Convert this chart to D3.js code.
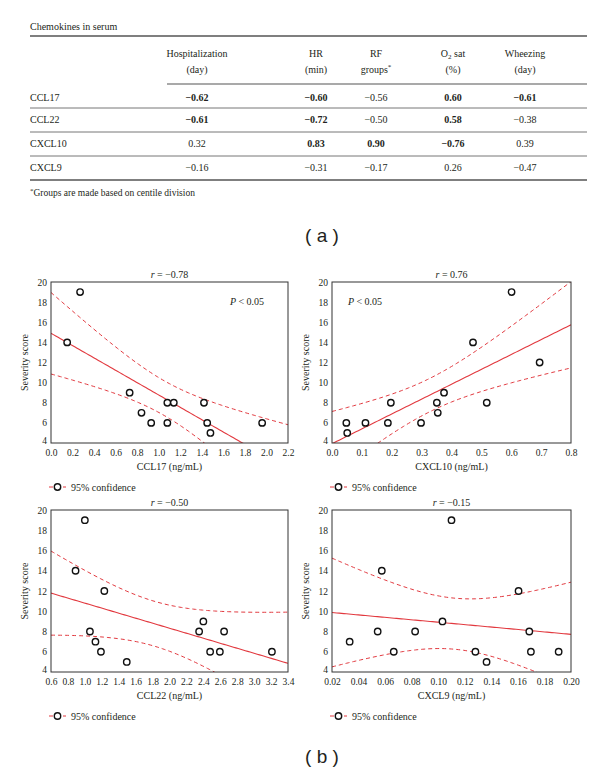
<!DOCTYPE html>
<html><head><meta charset="utf-8">
<script src="https://cdn.jsdelivr.net/npm/d3@7"></script>
<style>
body{margin:0;background:#fff}
svg{display:block}
text{font-family:"Liberation Serif","Tinos","DejaVu Serif","Noto Serif",serif;fill:#231f20}
</style>
</head><body>
<svg id="c" width="600" height="772"></svg>
<script>
// ---------- table data ----------
const tableTitle = "Chemokines in serum";
const tableHeadTop = ["Hospitalization", "HR", "RF", "O2 sat", "Wheezing"];
const tableHeadBottom = ["(day)", "(min)", "groups*", "(%)", "(day)"];
const tableRows = ["CCL17", "CCL22", "CXCL10", "CXCL9"];
const tableValues = [
  [-0.62, -0.60, -0.56, 0.60, -0.61],
  [-0.61, -0.72, -0.50, 0.58, -0.38],
  [0.32, 0.83, 0.90, -0.76, 0.39],
  [-0.16, -0.31, -0.17, 0.26, -0.47]
];
const tableBold = [
  [1, 1, 0, 1, 1],
  [1, 1, 0, 1, 0],
  [0, 1, 1, 1, 0],
  [0, 0, 0, 0, 0]
];
const footnote = "Groups are made based on centile division";

// ---------- scatter data ----------
const ccl17X = [0.27, 0.15, 0.73, 0.84, 0.93, 1.08, 1.14, 1.08, 1.42, 1.45, 1.48, 1.96];
const ccl17Y = [19, 14, 9, 7, 6, 8, 8, 6, 8, 6, 5, 6];
const cxcl10X = [0.048, 0.051, 0.112, 0.187, 0.197, 0.298, 0.351, 0.354, 0.375, 0.472, 0.518, 0.601, 0.695];
const cxcl10Y = [6, 5, 6, 6, 8, 6, 8, 7, 9, 14, 8, 19, 12];
const ccl22X = [1.00, 0.89, 1.23, 1.06, 1.125, 1.19, 1.495, 2.35, 2.40, 2.48, 2.595, 2.645, 3.21];
const ccl22Y = [19, 14, 12, 8, 7, 6, 5, 8, 9, 6, 6, 8, 6];
const cxcl9X = [0.0333, 0.0544, 0.0575, 0.0665, 0.0826, 0.1032, 0.110, 0.128, 0.1364, 0.1605, 0.1686, 0.1698, 0.1907];
const cxcl9Y = [7, 8, 14, 6, 8, 9, 19, 6, 5, 12, 8, 6, 6];

const ccl17Ticks = [0, 0.2, 0.4, 0.6, 0.8, 1.0, 1.2, 1.4, 1.6, 1.8, 2.0, 2.2];
const cxcl10Ticks = [0, 0.1, 0.2, 0.3, 0.4, 0.5, 0.6, 0.7, 0.8];
const ccl22Ticks = [0.6, 0.8, 1.0, 1.2, 1.4, 1.6, 1.8, 2.0, 2.2, 2.4, 2.6, 2.8, 3.0, 3.2, 3.4];
const cxcl9Ticks = [0.02, 0.04, 0.06, 0.08, 0.10, 0.12, 0.14, 0.16, 0.18, 0.20];
const severityTicks = [4, 6, 8, 10, 12, 14, 16, 18, 20];
const rValues = [-0.78, 0.76, -0.50, -0.15];
const xLabels = ["CCL17 (ng/mL)", "CXCL10 (ng/mL)", "CCL22 (ng/mL)", "CXCL9 (ng/mL)"];
const yLabel = "Severity score";
const legendLabel = "95% confidence";
const pLabel = "< 0.05";
const tCrit = {10: 2.228, 11: 2.201};

// ---------- drawing ----------
const SERIF = "'Liberation Serif','Tinos','DejaVu Serif','Noto Serif',serif";
const svg = d3.select("#c");
const RED = "#e2393f";
const minus = v => (v < 0 ? "\u2212" : "") + Math.abs(v).toFixed(2);

// Table
const tX0 = 30, tX1 = 587;
const colX = [197, 316, 376, 453, 525];
const rowY = [97, 119, 143, 167];
const FS = 10;
const txt = (sel) => sel.append("text").style("font-family", SERIF);
txt(svg).attr("x", tX0).attr("y", 29.5).attr("font-size", FS).text(tableTitle);
const hl = (y, x0, x1, c, w) => svg.append("line").attr("x1", x0).attr("x2", x1)
  .attr("y1", y).attr("y2", y).attr("stroke", c).attr("stroke-width", w);
hl(36, tX0, tX1, "#555", 1.3);
hl(84, 167, tX1, "#555", 1.1);
[108, 132, 156].forEach(y => hl(y, tX0, tX1, "#777", 1));
hl(180, tX0, tX1, "#555", 1.3);

tableHeadTop.forEach((h, i) => {
  const t = txt(svg).attr("x", colX[i]).attr("y", 56.5)
    .attr("text-anchor", "middle").attr("font-size", FS);
  if (h.startsWith("O2")) {
    t.append("tspan").text("O");
    t.append("tspan").attr("font-size", 7).attr("dy", 2.5).text("2");
    t.append("tspan").attr("dy", -2.5).text(h.slice(2));
  } else t.text(h);
});
tableHeadBottom.forEach((h, i) => {
  const t = txt(svg).attr("x", colX[i]).attr("y", 72.5)
    .attr("text-anchor", "middle").attr("font-size", FS);
  if (h.endsWith("*")) {
    t.append("tspan").text(h.slice(0, -1));
    t.append("tspan").attr("font-size", 7).attr("dy", -4).text("*");
  } else t.text(h);
});
tableRows.forEach((r, i) => {
  txt(svg).attr("x", tX0).attr("y", rowY[i] + 3.5).attr("font-size", FS).text(r);
  tableValues[i].forEach((v, j) => {
    txt(svg).attr("x", colX[j]).attr("y", rowY[i] + 3.5)
      .attr("text-anchor", "middle").attr("font-size", FS)
      .attr("font-weight", tableBold[i][j] ? "bold" : "normal").text(minus(v));
  });
});
const fn = txt(svg).attr("x", tX0).attr("y", 196).attr("font-size", 9.5);
fn.append("tspan").attr("font-size", 7).attr("dy", -3).text("*");
fn.append("tspan").attr("dy", 3).text(footnote);

// Panel labels
svg.append("text").attr("x", 322).attr("y", 242).attr("text-anchor", "middle")
  .style("font-family", "'Liberation Sans', Arial, sans-serif").attr("font-size", 19).text("( a )");
svg.append("text").attr("x", 322).attr("y", 763).attr("text-anchor", "middle")
  .style("font-family", "'Liberation Sans', Arial, sans-serif").attr("font-size", 19).text("( b )");

// Scatter panels
const panels = [
  {xs: ccl17X, ys: ccl17Y, ticks: ccl17Ticks, dec: 1, box: [51, 282, 288, 443], pX: 247},
  {xs: cxcl10X, ys: cxcl10Y, ticks: cxcl10Ticks, dec: 1, box: [332, 282, 571, 443], pX: 365},
  {xs: ccl22X, ys: ccl22Y, ticks: ccl22Ticks, dec: 1, box: [51, 510, 288, 672], pX: null},
  {xs: cxcl9X, ys: cxcl9Y, ticks: cxcl9Ticks, dec: 2, box: [332, 510, 571, 672], pX: null}
];

panels.forEach((p, k) => {
  const [x0, y0, x1, y1] = p.box;
  const xd = [p.ticks[0], p.ticks[p.ticks.length - 1]];
  const x = d3.scaleLinear().domain(xd).range([x0, x1]);
  const y = d3.scaleLinear().domain([4, 20]).range([y1, y0]);
  const g = svg.append("g");

  // regression + 95% CI of mean
  const n = p.xs.length;
  const mx = d3.mean(p.xs), my = d3.mean(p.ys);
  let sxx = 0, sxy = 0;
  p.xs.forEach((v, i) => { sxx += (v - mx) ** 2; sxy += (v - mx) * (p.ys[i] - my); });
  const b = sxy / sxx, a = my - b * mx;
  let sse = 0;
  p.xs.forEach((v, i) => { sse += (p.ys[i] - (a + b * v)) ** 2; });
  const s = Math.sqrt(sse / (n - 2));
  const t = tCrit[n - 2];
  const grid = d3.range(0, 101).map(i => xd[0] + (xd[1] - xd[0]) * i / 100);
  const half = v => t * s * Math.sqrt(1 / n + (v - mx) ** 2 / sxx);

  const cid = "clip" + k;
  svg.append("clipPath").attr("id", cid).append("rect")
    .attr("x", x0).attr("y", y0).attr("width", x1 - x0).attr("height", y1 - y0);
  const lg = g.append("g").attr("clip-path", `url(#${cid})`);
  const line = d3.line().x(d => x(d[0])).y(d => y(d[1]));
  lg.append("path").attr("d", line(grid.map(v => [v, a + b * v])))
    .attr("fill", "none").attr("stroke", RED).attr("stroke-width", 1.1);
  [1, -1].forEach(sg => {
    lg.append("path").attr("d", line(grid.map(v => [v, a + b * v + sg * half(v)])))
      .attr("fill", "none").attr("stroke", RED).attr("stroke-width", 1)
      .attr("stroke-dasharray", "4,3");
  });

  // frame
  g.append("rect").attr("x", x0).attr("y", y0).attr("width", x1 - x0).attr("height", y1 - y0)
    .attr("fill", "none").attr("stroke", "#333").attr("stroke-width", 1);

  // points
  g.selectAll("circle.pt").data(p.xs.map((v, i) => [v, p.ys[i]])).join("circle")
    .attr("class", "pt").attr("cx", d => x(d[0])).attr("cy", d => y(d[1])).attr("r", 3.2)
    .attr("fill", "#fff").attr("stroke", "#111").attr("stroke-width", 1.4);

  // axes
  const ax = g.append("g").attr("transform", `translate(0,${y1})`)
    .call(d3.axisBottom(x).tickValues(p.ticks).tickSize(0).tickPadding(6)
      .tickFormat(d => d.toFixed(p.dec)));
  const ay = g.append("g").attr("transform", `translate(${x0},0)`)
    .call(d3.axisLeft(y).tickValues(severityTicks).tickSize(0).tickPadding(4)
      .tickFormat(d3.format("d")));
  [ax, ay].forEach(A => {
    A.attr("font-family", null);
    A.select(".domain").remove();
    A.selectAll("text").attr("font-size", 9.5).attr("fill", "#231f20")
      .style("font-family", SERIF);
  });
  ay.selectAll("text").filter(d => d === 4).attr("dy", "0.1em");

  const cx = (x0 + x1) / 2;
  // title
  const tt = txt(g).attr("x", cx).attr("y", y0 - 4).attr("text-anchor", "middle").attr("font-size", 10);
  tt.append("tspan").attr("font-style", "italic").text("r");
  tt.append("tspan").text(" = " + minus(rValues[k]));
  if (p.pX) {
    const pt = txt(g).attr("x", p.pX).attr("y", y0 + 23).attr("text-anchor", "middle").attr("font-size", 10);
    pt.append("tspan").attr("font-style", "italic").text("P");
    pt.append("tspan").text(" " + pLabel);
  }
  // y label
  txt(g).attr("transform", `translate(${x0 - 23},${(y0 + y1) / 2}) rotate(-90)`)
    .attr("text-anchor", "middle").attr("font-size", 10).text(yLabel);
  // x label
  txt(g).attr("x", cx).attr("y", y1 + 26.5).attr("text-anchor", "middle")
    .attr("font-size", 10).text(xLabels[k]);
  // legend
  const ly = y1 + 44;
  g.append("line").attr("x1", x0 - 2).attr("x2", x0 + 15).attr("y1", ly).attr("y2", ly)
    .attr("stroke", RED).attr("stroke-width", 1).attr("stroke-dasharray", "4,3");
  g.append("circle").attr("cx", x0 + 6.5).attr("cy", ly).attr("r", 3.2)
    .attr("fill", "#fff").attr("stroke", "#111").attr("stroke-width", 1.4);
  txt(g).attr("x", x0 + 20).attr("y", ly + 3.5).attr("font-size", 10).text(legendLabel);
});
</script>
</body></html>
